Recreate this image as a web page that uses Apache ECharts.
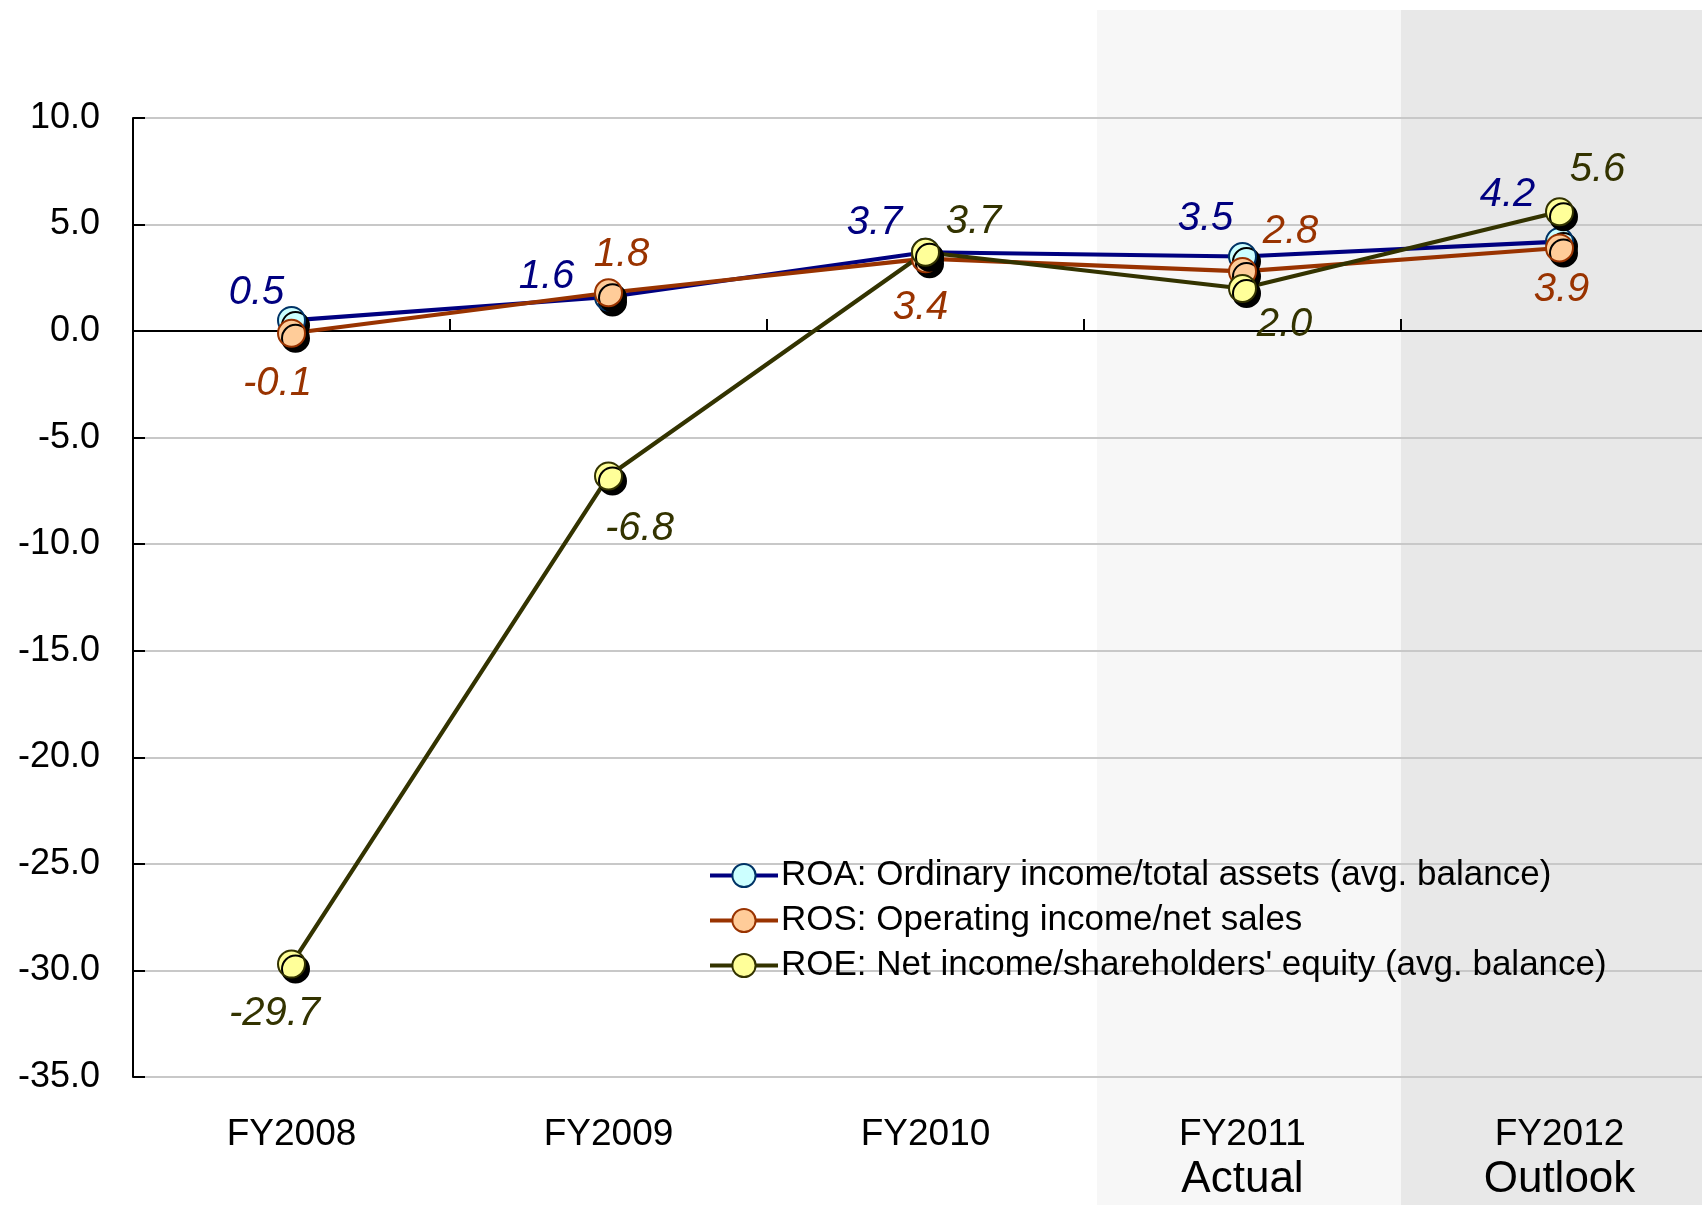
<!DOCTYPE html>
<html>
<head>
<meta charset="utf-8">
<script src="https://cdn.jsdelivr.net/npm/echarts@6/dist/echarts.min.js"></script>
<style>
html,body{margin:0;padding:0;background:#fff;}
#chart{width:1702px;height:1205px;}
</style>
</head>
<body>
<div id="chart"></div>
<script>
const categories = ['FY2008', 'FY2009', 'FY2010', 'FY2011', 'FY2012'];
const subLabels = ['', '', '', 'Actual', 'Outlook'];
const roa = [0.5, 1.6, 3.7, 3.5, 4.2];
const ros = [-0.1, 1.8, 3.4, 2.8, 3.9];
const roe = [-29.7, -6.8, 3.7, 2.0, 5.6];
const seriesNames = [
  'ROA: Ordinary income/total assets (avg. balance)',
  'ROS: Operating income/net sales',
  'ROE: Net income/shareholders\' equity (avg. balance)'
];
const yMin = -35, yMax = 10, yStep = 5;

// label offsets (layout only, relative to each point)
const roaLabelOffsets = [[-35, -28], [-62, -20], [-51, -29], [-37, -38], [-52, -47]];
const rosLabelOffsets = [[-14, 51], [13, -38], [-5, 49], [48, -40], [2, 42]];
const roeLabelOffsets = [[-17, 50], [31, 53], [48, -30], [42, 36], [38, -42]];

const FONT = '"Liberation Sans", Arial, sans-serif';

function makeData(values, offsets, color) {
  return values.map((v, i) => ({
    value: v,
    label: {
      show: true,
      position: 'inside',
      offset: offsets[i],
      formatter: (p) => p.value.toFixed(1),
      color: color,
      fontSize: 40,
      fontStyle: 'italic',
      fontFamily: FONT
    }
  }));
}

function makeSeries(name, values, offsets, lineColor, fill, borderColor) {
  return {
    name: name,
    type: 'line',
    data: makeData(values, offsets, lineColor),
    symbol: 'circle',
    symbolSize: 27,
    showAllSymbol: true,
    lineStyle: { color: lineColor, width: 4.2 },
    itemStyle: {
      color: fill,
      borderColor: borderColor,
      borderWidth: 2,
      shadowColor: '#000',
      shadowBlur: 0,
      shadowOffsetX: 4,
      shadowOffsetY: 5
    },
    emphasis: { disabled: true },
    z: 3
  };
}

const chart = echarts.init(document.getElementById('chart'), null, { renderer: 'canvas' });

const option = {
  animation: false,
  backgroundColor: '#ffffff',
  grid: { left: 133, top: 118, width: 1585, height: 959, containLabel: false, outerBoundsMode: 'none' },
  legend: {
    orient: 'vertical',
    left: 703,
    top: 853,
    itemWidth: 68,
    itemHeight: 29,
    itemGap: 10,
    data: seriesNames,
    textStyle: { color: '#000', fontSize: 35, fontFamily: FONT, padding: [0, 0, 0, -2] },
    lineStyle: { width: 4 },
    itemStyle: { shadowColor: 'rgba(0,0,0,0)', shadowOffsetX: 0, shadowOffsetY: 0, shadowBlur: 0 }
  },
  xAxis: [
    {
      type: 'category',
      data: categories,
      position: 'bottom',
      boundaryGap: true,
      axisLine: { show: false, onZero: false },
      axisTick: { show: false },
      splitLine: { show: false },
      axisLabel: {
        margin: 36,
        interval: 0,
        formatter: (val, idx) => subLabels[idx] ? `{a|${val}}\n{b|${subLabels[idx]}}` : `{a|${val}}`,
        rich: {
          a: { fontSize: 37, fontFamily: FONT, color: '#000', lineHeight: 44 },
          b: { fontSize: 44, fontFamily: FONT, color: '#000', lineHeight: 46 }
        }
      }
    },
    {
      type: 'category',
      data: categories,
      position: 'bottom',
      boundaryGap: true,
      axisLine: { show: true, onZero: true, lineStyle: { color: '#000', width: 2 } },
      axisTick: { show: true, inside: true, length: 12, lineStyle: { color: '#000', width: 2 } },
      axisLabel: { show: false },
      splitLine: { show: false }
    }
  ],
  yAxis: {
    type: 'value',
    min: yMin,
    max: yMax,
    interval: yStep,
    axisLine: { show: true, lineStyle: { color: '#000', width: 2 } },
    axisTick: { show: true, inside: true, length: 12, lineStyle: { color: '#000', width: 2 } },
    axisLabel: {
      margin: 33,
      formatter: (v) => v.toFixed(1),
      color: '#000',
      fontSize: 36,
      fontFamily: FONT
    },
    splitLine: { show: true, lineStyle: { color: '#c8c8c8', width: 2 } }
  },
  series: [
    makeSeries(seriesNames[0], roa, roaLabelOffsets, '#000080', '#ccffff', '#003366'),
    makeSeries(seriesNames[1], ros, rosLabelOffsets, '#993300', '#ffcc99', '#993300'),
    makeSeries(seriesNames[2], roe, roeLabelOffsets, '#333300', '#ffff99', '#333300')
  ]
};

chart.setOption(option);

// background shading for Actual / Outlook columns, tied to the category axis
const x2010 = chart.convertToPixel({ xAxisIndex: 0 }, categories[2]);
const x2011 = chart.convertToPixel({ xAxisIndex: 0 }, categories[3]);
const x2012 = chart.convertToPixel({ xAxisIndex: 0 }, categories[4]);
const b1 = (x2010 + x2011) / 2 + 13;
const b2 = (x2011 + x2012) / 2;
chart.setOption({
  graphic: [
    { type: 'rect', z: -10, silent: true, shape: { x: b1, y: 10, width: b2 - b1, height: 1205 }, style: { fill: '#f7f7f7' } },
    { type: 'rect', z: -10, silent: true, shape: { x: b2, y: 10, width: 1702 - b2, height: 1205 }, style: { fill: '#e8e8e8' } }
  ]
});
</script>
</body>
</html>
